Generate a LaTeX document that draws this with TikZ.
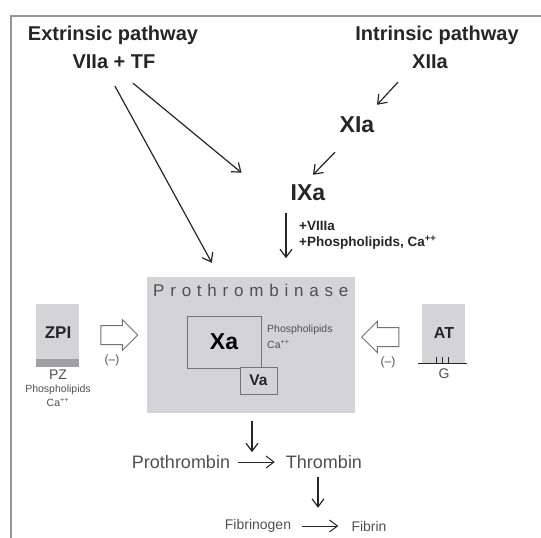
\documentclass[tikz,border=0pt]{standalone}
\usepackage{fontspec}
\setmainfont{Liberation Sans}
\usetikzlibrary{arrows.meta,shapes.arrows,positioning}
\definecolor{framegrey}{RGB}{150,150,150}
\definecolor{boxgrey}{RGB}{212,212,216}
\definecolor{bandgrey}{RGB}{160,160,163}
\definecolor{edgegrey}{RGB}{115,115,118}
\definecolor{inkdark}{RGB}{38,38,38}
\definecolor{inkmid}{RGB}{80,80,80}
\newcommand{\fsz}[1]{\fontsize{#1}{#1}\selectfont}
\tikzset{
  base/.style={inner sep=2pt, text=inkdark, align=center},
  head/.style={base, font=\fsz{20}\bfseries},
  factor/.style={base, font=\fsz{23}\bfseries},
  cofac/.style={base, anchor=west, inner sep=0pt, font=\fsz{13.5}\bfseries},
  chain/.style={base, text=inkmid, font=\fsz{18}},
  small/.style={base, text=inkmid, inner sep=0pt, font=\fsz{10.5}},
  minus/.style={base, text=inkmid, font=\fsz{12}},
  panel/.style={rectangle, fill=boxgrey, inner sep=0pt},
  frame/.style={rectangle, draw=edgegrey, line width=1pt, inner sep=0pt},
  hollow/.style={single arrow, draw=edgegrey, fill=white, line width=1pt, inner xsep=0pt, inner ysep=9pt, single arrow head extend=6pt, minimum height=37pt},
  arr/.style={-{Straight Barb[length=8pt,width=12pt]}, line width=1.2pt, draw=inkdark},
}
\begin{document}
\begin{tikzpicture}[x=1pt,y=-1pt]
  \useasboundingbox (0,0) rectangle (541,538);
  \draw[framegrey,line width=2pt] (541,16) -- (11,16) -- (11,538);
  % pathways
  \node[head] (extr) at (113,35) {Extrinsic pathway};
  \node[head] (vii) at (114,62) {VIIa + TF};
  \node[head] (intr) at (437,35) {Intrinsic pathway};
  \node[head] (xii) at (430,62) {XIIa};
  \node[factor] (xia) at (357,125) {XIa};
  \node[factor] (ixa) at (308,193) {IXa};
  \node[cofac] (viii) at (299,226) {+VIIIa};
  \node[cofac] (phos) at (299,243) {+Phospholipids, Ca\textsuperscript{++}};
  % prothrombinase complex
  \node[panel, minimum width=208pt, minimum height=136pt] (pro) at (251,345) {};
  \node[base, anchor=west, inner sep=0pt, text=inkmid, font=\fsz{17}\addfontfeature{LetterSpace=34}] (prolbl) at (153,290) {Prothrombinase};
  \node[frame, minimum width=74pt, minimum height=52pt, font=\fsz{23}\bfseries] (xa) at (224,342) {Xa};
  \node[frame, fill=boxgrey, minimum width=37pt, minimum height=27pt, font=\fsz{15.5}\bfseries, text=inkdark] (va) at (258.5,380.5) {Va};
  \node[small, anchor=west] (phin) at (267,330) {Phospholipids};
  \node[small, anchor=west] (cain) at (267,344) {Ca\textsuperscript{++}};
  % ZPI side
  \node[panel, minimum width=43pt, minimum height=63pt] (zpi) at (57.5,335.5) {};
  \fill[bandgrey] (zpi.south west) rectangle ([yshift=8pt]zpi.south east);
  \node[base, font=\fsz{17}\bfseries] at (58,333) {ZPI};
  \node[base, text=inkmid, inner sep=0pt, font=\fsz{14}] (pz) at (58,375) {PZ};
  \node[small] (phz) at (58,390) {Phospholipids};
  \node[small] (caz) at (58,402) {Ca\textsuperscript{++}};
  \node[hollow] (inhl) at (114.5,335) {};
  \node[minus] (ml) at (112,360) {(–)};
  % AT side
  \node[panel, minimum width=43pt, minimum height=59pt] (at) at (443.5,333.5) {};
  \node[base, font=\fsz{16}\bfseries] at (444,333) {AT};
  \draw[inkdark,line width=1.2pt] ([xshift=-4pt]at.south west) -- ([xshift=2pt]at.south east);
  \foreach \t in {-7,-1,5}{
    \draw[inkdark,line width=1pt] ([xshift=\t pt]at.south) -- ++(0,-6);
  }
  \node[base, text=inkmid, font=\fsz{14}] (g) at (444,374) {G};
  \node[hollow, shape border rotate=180] (inhr) at (385,337) {};
  \node[minus] (mr) at (388,362) {(–)};
  % products
  \node[chain] (ptn) at (181,462) {Prothrombin};
  \node[chain] (thr) at (324,462) {Thrombin};
  \node[chain, font=\fsz{14}] (fbg) at (258,526) {Fibrinogen};
  \node[chain, font=\fsz{14}] (fib) at (369,526) {Fibrin};
  % connectors
  \draw[arr] ([xshift=-32pt,yshift=-11pt]xii.south) -- ([xshift=20pt,yshift=10pt]xia.north);
  \draw[arr] ([xshift=-22pt,yshift=-17pt]xia.south) -- ([xshift=5pt,yshift=8pt]ixa.north);
  \draw[arr] ([xshift=1pt,yshift=-15pt]vii.south) -- ([xshift=65pt,yshift=14pt]pro.north west);
  \draw[arr] ([xshift=19pt,yshift=-12pt]vii.south) -- ([xshift=-47pt,yshift=10pt]ixa.north west);
  \draw[arr] ([xshift=-22pt,yshift=-10pt]ixa.south) -- ++(0,45);
  \draw[arr] ([xshift=1pt,yshift=-8pt]pro.south) -- ++(0,31);
  \draw[arr, line width=1pt, shorten <=6pt, shorten >=9pt] (ptn) -- (thr);
  \draw[arr] ([xshift=-6pt,yshift=-6pt]thr.south) -- ++(0,31);
  \draw[arr, line width=1pt, shorten <=9pt, shorten >=11pt] (fbg) -- (fib);
\end{tikzpicture}
\end{document}
